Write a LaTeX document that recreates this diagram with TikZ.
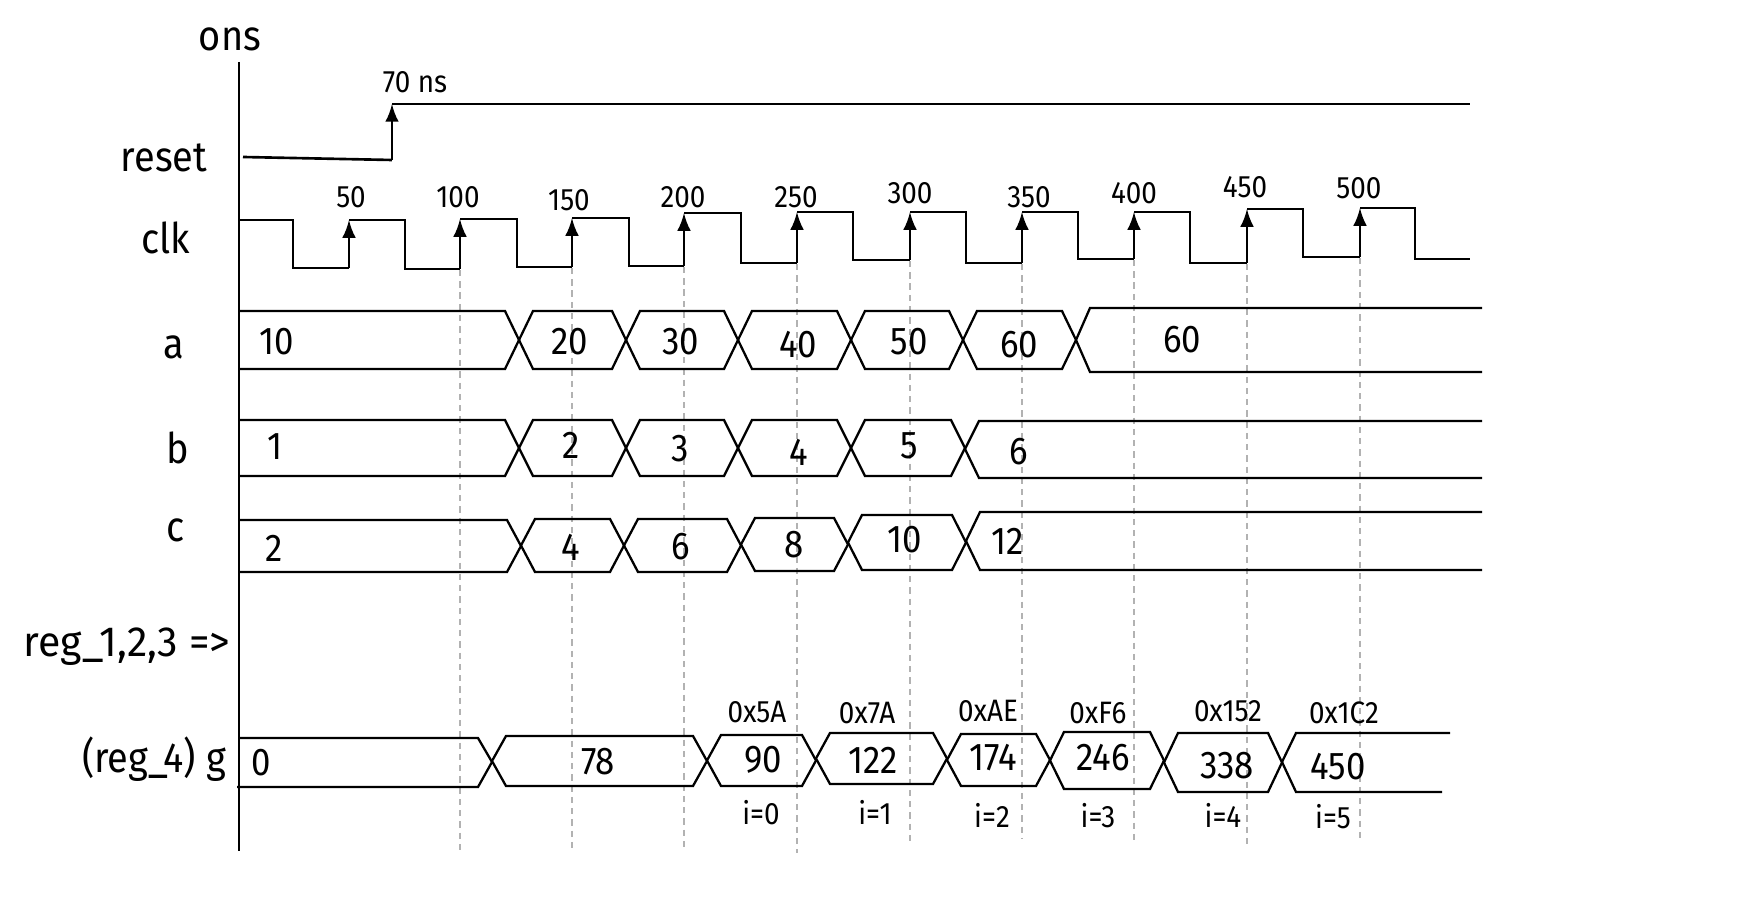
\documentclass[tikz,border=0pt]{standalone}
\usepackage{fontspec}
\setmainfont{Fira Sans}[FakeStretch=0.9]

\tikzset{
  sig/.style={line width=0.75pt},
  bus/.style={line width=0.65pt},
  guide/.style={black!30, line width=0.55pt, dash pattern=on 1.8pt off 1.4pt},
  signame/.style={font=\fontsize{12}{14}\selectfont},
  val/.style={font=\fontsize{11}{13}\selectfont},
  edgelbl/.style={font=\fontsize{8.8}{10}\selectfont},
}

% one bus value between two crossings: left, right, top, bottom
\newcommand{\busbox}[4]{%
  \draw[bus] (#1,{(#3+#4)/2}) -- (#1+14,#3) -- (#2-14,#3) -- (#2,{(#3+#4)/2})
    -- (#2-14,#4) -- (#1+14,#4) -- cycle;}

\begin{document}
\begin{tikzpicture}[x=0.01cm,y=-0.01cm]
            \useasboundingbox (0,0) rectangle (1757,916);

            % signal names
            \node[signame] (ons) at (230, 39) {ons};
            \node[signame] (reset) at (164, 158) {reset};
            \node[signame] (clk) at (166, 238) {clk};
            \node[signame] (a) at (174, 347) {a};
            \node[signame] (b) at (178, 448) {b};
            \node[signame] (c) at (176, 530) {c};
            \node[signame,xscale=1.08] (reg) at (127, 647) {reg\_1,2,3 =>};
            \node[signame] (g) at (154, 759) {(reg\_4) g};

            % time axis
            \coordinate (axtop) at (239, 62);
            \coordinate (axbot) at (239, 851);
            \draw[sig] (axtop) -- (axbot);

            % guides at the rising edges
            \draw[guide] (460, 270) -- (460, 855);
            \draw[guide] (572, 268) -- (572, 852);
            \draw[guide] (684, 267) -- (684, 852);
            \draw[guide] (797, 264) -- (797, 853);
            \draw[guide] (910, 261) -- (910, 842);
            \draw[guide] (1022, 264) -- (1022, 839);
            \draw[guide] (1134, 260) -- (1134, 845);
            \draw[guide] (1247, 264) -- (1247, 845);
            \draw[guide] (1360, 258) -- (1360, 839);

            % reset
            \coordinate (rs0) at (243, 157);
            \coordinate (rs1) at (392, 160);
            \coordinate (rs2) at (392, 104);
            \coordinate (rs3) at (1470, 104);
            \draw[sig] (rs0) -- (rs1);
            \draw[sig,-latex] (rs1) -- (rs2);
            \draw[sig] (rs2) -- (rs3);
            \node[edgelbl] (t70) at (415, 82) {70 ns};

            % clk
            \draw[sig] (239,220) -- (293,220) -- (293,268) -- (349,268)
                (349,220) -- (405,220) -- (405,269) -- (460,269)
                (460,219) -- (517,219) -- (517,267) -- (572,267)
                (572,218) -- (629,218) -- (629,266) -- (684,266)
                (684,213) -- (741,213) -- (741,263) -- (797,263)
                (797,212) -- (853,212) -- (853,260) -- (910,260)
                (910,212) -- (966,212) -- (966,263) -- (1022,263)
                (1022,212) -- (1078,212) -- (1078,259) -- (1134,259)
                (1134,212) -- (1190,212) -- (1190,263) -- (1247,263)
                (1247,209) -- (1303,209) -- (1303,257) -- (1360,257)
                (1360,208) -- (1415,208) -- (1415,259) -- (1470,259);
            \draw[sig,-latex] (349,268) -- (349,220);
            \draw[sig,-latex] (460,269) -- (460,219);
            \draw[sig,-latex] (572,267) -- (572,218);
            \draw[sig,-latex] (684,266) -- (684,213);
            \draw[sig,-latex] (797,263) -- (797,212);
            \draw[sig,-latex] (910,260) -- (910,212);
            \draw[sig,-latex] (1022,263) -- (1022,212);
            \draw[sig,-latex] (1134,259) -- (1134,212);
            \draw[sig,-latex] (1247,263) -- (1247,209);
            \draw[sig,-latex] (1360,257) -- (1360,208);

            \node[edgelbl] (e50) at (351, 197) {50};
            \node[edgelbl] (e100) at (458, 197) {100};
            \node[edgelbl] (e150) at (569, 200) {150};
            \node[edgelbl] (e200) at (683, 197) {200};
            \node[edgelbl] (e250) at (796, 197) {250};
            \node[edgelbl] (e300) at (910, 193) {300};
            \node[edgelbl] (e350) at (1029, 197) {350};
            \node[edgelbl] (e400) at (1134, 193) {400};
            \node[edgelbl] (e450) at (1245, 187) {450};
            \node[edgelbl] (e500) at (1359, 188) {500};

            % a
            \draw[bus] (239,311) -- (505,311) -- (519,340) -- (505,369) -- (239,369);
            \busbox{519}{626}{311}{369}
            \busbox{626}{738}{311}{369}
            \busbox{738}{851}{311}{369}
            \busbox{851}{963}{311}{369}
            \busbox{963}{1076}{311}{369}
            \draw[bus] (1482,308) -- (1090,308) -- (1076,340) -- (1090,372) -- (1482,372);
            \node[val] (a0) at (277, 342) {10};
            \node[val] (a1) at (570, 342) {20};
            \node[val] (a2) at (681, 342) {30};
            \node[val] (a3) at (798, 345) {40};
            \node[val] (a4) at (909, 342) {50};
            \node[val] (a5) at (1019, 345) {60};
            \node[val] (a6) at (1182, 340) {60};

            % b
            \draw[bus] (239,420) -- (505,420) -- (519,448) -- (505,476) -- (239,476);
            \busbox{519}{626}{420}{476}
            \busbox{626}{738}{420}{476}
            \busbox{738}{851}{420}{476}
            \busbox{851}{965}{420}{476}
            \draw[bus] (1482,421) -- (979,421) -- (965,449) -- (979,478) -- (1482,478);
            \node[val] (b0) at (275, 447) {1};
            \node[val] (b1) at (571, 445) {2};
            \node[val] (b2) at (680, 449) {3};
            \node[val] (b3) at (799, 452) {4};
            \node[val] (b4) at (909, 446) {5};
            \node[val] (b5) at (1019, 452) {6};

            % c
            \draw[bus] (239,520) -- (507,520) -- (521,546) -- (507,572) -- (239,572);
            \busbox{521}{624}{519}{572}
            \busbox{624}{741}{519}{572}
            \busbox{741}{848}{518}{571}
            \busbox{848}{966}{515}{570}
            \draw[bus] (1482,512) -- (980,512) -- (966,541) -- (980,570) -- (1482,570);
            \node[val] (c0) at (274, 548) {2};
            \node[val] (c1) at (571, 547) {4};
            \node[val] (c2) at (681, 547) {6};
            \node[val] (c3) at (794, 545) {8};
            \node[val] (c4) at (905, 540) {10};
            \node[val] (c5) at (1008, 541) {12};

            % g
            \draw[bus] (239,738) -- (478,738) -- (492,762) -- (478,787) -- (237,787);
            \busbox{492}{707}{736}{786}
            \busbox{707}{816}{735}{786}
            \busbox{816}{947}{733}{784}
            \busbox{947}{1050}{734}{786}
            \busbox{1050}{1164}{732}{789}
            \busbox{1164}{1282}{733}{792}
            \draw[bus] (1450,733) -- (1296,733) -- (1282,762) -- (1296,792) -- (1442,792);
            \node[val] (g0) at (261, 763) {0};
            \node[val] (g1) at (598, 762) {78};
            \node[val] (g2) at (763, 760) {90};
            \node[val] (g3) at (873, 760) {122};
            \node[val] (g4) at (993, 758) {174};
            \node[val] (g5) at (1103, 758) {246};
            \node[val] (g6) at (1227, 766) {338};
            \node[val] (g7) at (1338, 767) {450};

            \node[edgelbl] (h0) at (757, 712) {0x5A};
            \node[edgelbl] (h1) at (867, 713) {0x7A};
            \node[edgelbl] (h2) at (988, 711) {0xAE};
            \node[edgelbl] (h3) at (1098, 713) {0xF6};
            \node[edgelbl] (h4) at (1228, 711) {0x152};
            \node[edgelbl] (h5) at (1344, 713) {0x1C2};

            \node[edgelbl] (i0) at (761, 813) {i=0};
            \node[edgelbl] (i1) at (875, 812) {i=1};
            \node[edgelbl] (i2) at (992, 815) {i=2};
            \node[edgelbl] (i3) at (1098, 816) {i=3};
            \node[edgelbl] (i4) at (1223, 815) {i=4};
            \node[edgelbl] (i5) at (1333, 817) {i=5};
        \end{tikzpicture}
\end{document}
